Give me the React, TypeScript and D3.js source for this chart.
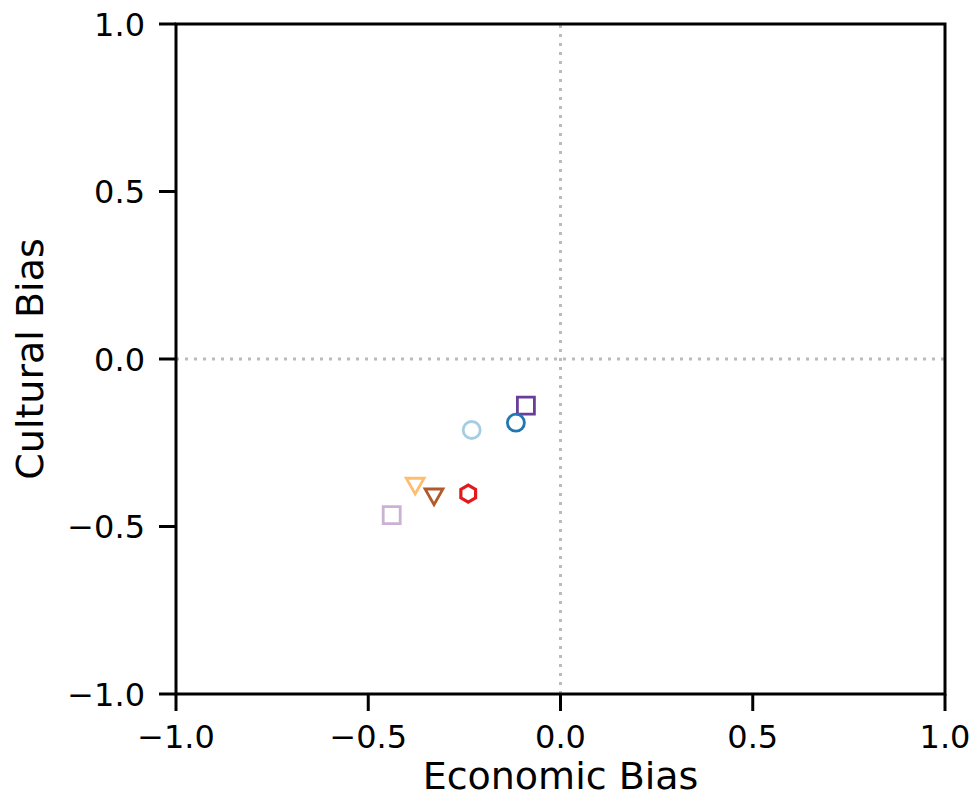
import React from 'react'
import * as d3 from 'd3'

const models = ['A', 'B', 'C', 'D', 'E', 'F', 'G']
const econ = [-0.09, -0.116, -0.231, -0.378, -0.329, -0.24, -0.439]
const cult = [-0.139, -0.19, -0.212, -0.372, -0.404, -0.402, -0.466]
const shapes = ['square', 'circle', 'circle', 'tri', 'tri', 'hex', 'square']
const colors = ['#6a3d9a', '#1f78b4', '#a6cee3', '#fdbf6f', '#b15928', '#e31a1c', '#cab2d6']
const ticks = [-1.0, -0.5, 0.0, 0.5, 1.0]

const W = 977
const H = 799
const margin = { top: 24, right: 32, bottom: 105, left: 176 }

function marker(shape: string, r: number) {
    if (shape === 'square') return `M${-r},${-r}H${r}V${r}H${-r}Z`
    if (shape === 'circle') return d3.symbol(d3.symbolCircle, Math.PI * r * r)()!
    if (shape === 'tri') {
        const a = r * 1.05
        return `M${-a},${-a * 0.6}L${a},${-a * 0.6}L0,${a * 1.15}Z`
    }
    // hexagon, pointy top
    const pts = d3.range(6).map(i => {
        const t = Math.PI / 2 + i * Math.PI / 3
        return [Math.cos(t) * r, -Math.sin(t) * r]
    })
    return 'M' + pts.map(p => p.join(',')).join('L') + 'Z'
}

export default function App() {
    const x = d3.scaleLinear([-1, 1], [margin.left, W - margin.right])
    const y = d3.scaleLinear([-1, 1], [H - margin.bottom, margin.top])
    const fmt = (v: number) => d3.format('.1f')(v).replace('-', '\u2212')
    const font = 'DejaVu Sans, sans-serif'
    const tickLen = 17

    return (
        <div style={{ position: 'absolute', left: 0, top: 0 }}>
            <svg width={W} height={H} style={{ display: 'block' }} fontFamily={font}>
                <rect width={W} height={H} fill="white" />
                {/* zero lines */}
                <line x1={x(0)} x2={x(0)} y1={y(-1)} y2={y(1)} stroke="#bbbbbb" strokeWidth={3} strokeDasharray="3,6" />
                <line x1={x(-1)} x2={x(1)} y1={y(0)} y2={y(0)} stroke="#bbbbbb" strokeWidth={3} strokeDasharray="3,6" />

                {models.map((m, i) => (
                    <path key={m} d={marker(shapes[i], 8.5)}
                        transform={`translate(${x(econ[i])},${y(cult[i])})`}
                        fill="none" stroke={colors[i]} strokeWidth={shapes[i] === 'hex' ? 3.2 : 2.8} />
                ))}

                {/* frame */}
                <rect x={x(-1)} y={y(1)} width={x(1) - x(-1)} height={y(-1) - y(1)} fill="none" stroke="black" strokeWidth={3} />

                {ticks.map(t => (
                    <g key={'x' + t}>
                        <line x1={x(t)} x2={x(t)} y1={y(-1)} y2={y(-1) + tickLen} stroke="black" strokeWidth={3} />
                        <text x={x(t)} y={748} textAnchor="middle" fontSize={32}>{fmt(t)}</text>
                    </g>
                ))}
                {ticks.map(t => (
                    <g key={'y' + t}>
                        <line x1={x(-1)} x2={x(-1) - tickLen} y1={y(t)} y2={y(t)} stroke="black" strokeWidth={3} />
                        <text x={x(-1) - tickLen - 14} y={y(t)} dy="0.36em" textAnchor="end" fontSize={32}>{fmt(t)}</text>
                    </g>
                ))}

                <text x={(x(-1) + x(1)) / 2} y={789} textAnchor="middle" fontSize={38}>Economic Bias</text>
                <text transform={`translate(43,${(y(-1) + y(1)) / 2}) rotate(-90)`} textAnchor="middle" fontSize={38}>Cultural Bias</text>
            </svg>
        </div>
    )
}
